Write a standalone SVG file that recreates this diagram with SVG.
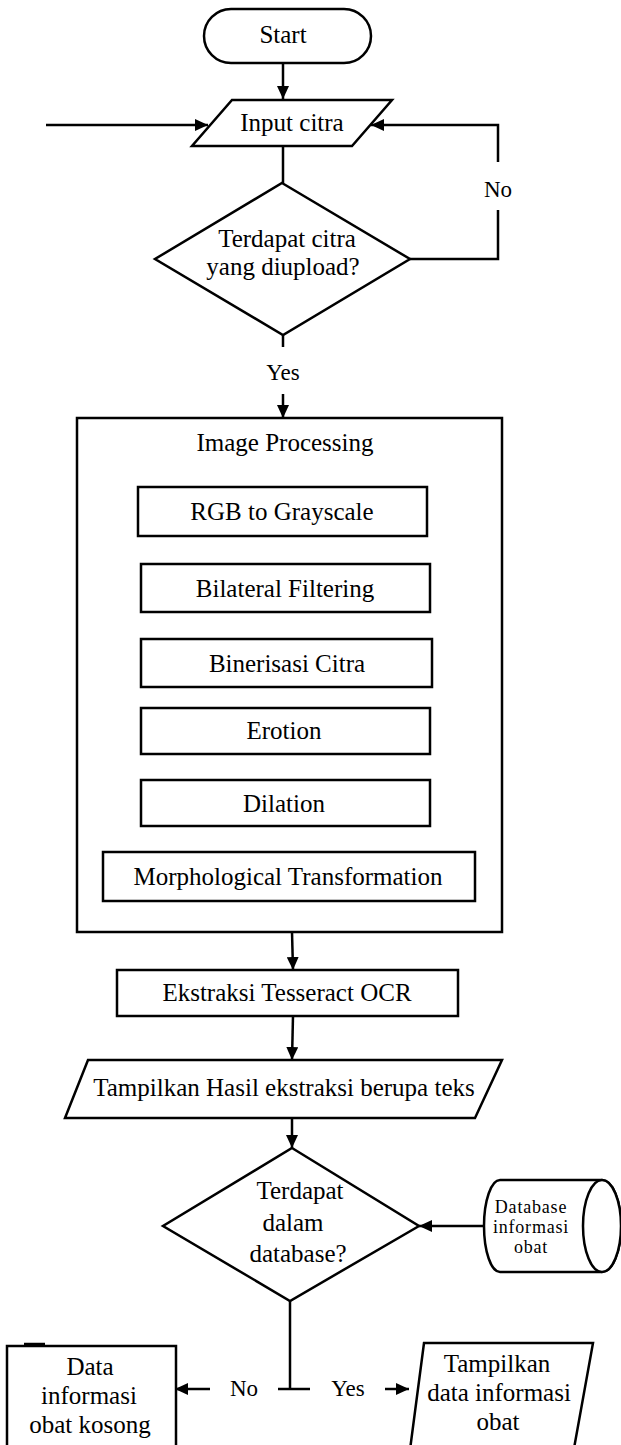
<svg xmlns="http://www.w3.org/2000/svg" width="621" height="1445" viewBox="0 0 621 1445">
  <style>
    .shape { fill: #ffffff; stroke: #000000; stroke-width: 2.5; }
    .line { fill: none; stroke: #000000; stroke-width: 2.5; }
    .label { font-family: "Liberation Serif", "Times New Roman", serif; font-size: 25px; fill: #000000; text-anchor: middle; }
    .small { font-family: "Liberation Serif", "Times New Roman", serif; font-size: 18px; fill: #000000; text-anchor: middle; letter-spacing: 0.8px; }
    .edge { font-family: "Liberation Serif", "Times New Roman", serif; font-size: 23px; fill: #000000; text-anchor: middle; }
  </style>
  <defs>
    <marker id="arrow" markerUnits="userSpaceOnUse" markerWidth="14" markerHeight="12" viewBox="0 0 14 12" refX="13" refY="6" orient="auto">
      <path d="M0,0 L13,6 L0,12 z" fill="#000000"/>
    </marker>
  </defs>

  <rect width="621" height="1445" fill="#ffffff"/>

  <!-- connectors -->
  <g id="connectors">
    <line class="line" x1="283" y1="63" x2="283" y2="99" marker-end="url(#arrow)"/>
    <line class="line" x1="46" y1="125" x2="208" y2="125" marker-end="url(#arrow)"/>
    <polyline class="line" points="410,259 498,259 498,210"/>
    <polyline class="line" points="498,162 498,125 371,125" marker-end="url(#arrow)"/>
    <line class="line" x1="283" y1="146" x2="283" y2="183"/>
    <line class="line" x1="283" y1="335" x2="283" y2="347"/>
    <line class="line" x1="283" y1="394" x2="283" y2="418" marker-end="url(#arrow)"/>
    <line class="line" x1="292" y1="932" x2="293" y2="970" marker-end="url(#arrow)"/>
    <line class="line" x1="293" y1="1016" x2="292" y2="1060" marker-end="url(#arrow)"/>
    <line class="line" x1="292" y1="1108" x2="292" y2="1148" marker-end="url(#arrow)"/>
    <line class="line" x1="485" y1="1226" x2="419" y2="1226" marker-end="url(#arrow)"/>
    <line class="line" x1="290" y1="1301" x2="290" y2="1389"/>
    <line class="line" x1="278" y1="1389" x2="310" y2="1389"/>
    <line class="line" x1="210" y1="1389" x2="175" y2="1389" marker-end="url(#arrow)"/>
    <line class="line" x1="385" y1="1389" x2="409" y2="1389" marker-end="url(#arrow)"/>
    <text class="edge" x="498" y="197">No</text>
    <text class="edge" x="283" y="380">Yes</text>
    <text class="edge" x="244" y="1396">No</text>
    <text class="edge" x="348" y="1396">Yes</text>
  </g>

  <g id="start">
    <rect class="shape" x="204" y="9" width="167" height="54" rx="27" ry="27"/>
    <text class="label" x="283" y="43">Start</text>
  </g>

  <g id="input-citra">
    <polygon class="shape" points="232,100 392,100 352,146 192,146"/>
    <text class="label" x="292" y="131">Input citra</text>
  </g>

  <g id="cek-upload">
    <polygon class="shape" points="282,183 410,259 283,335 155,259"/>
    <text class="label" x="287" y="247">Terdapat citra</text>
    <text class="label" x="283" y="275">yang diupload?</text>
  </g>

  <g id="image-processing">
    <rect class="shape" x="77" y="418" width="425" height="514"/>
    <text class="label" x="285" y="451">Image Processing</text>
  </g>

  <g id="rgb-grayscale">
    <rect class="shape" x="138" y="487" width="289" height="49"/>
    <text class="label" x="282" y="520">RGB to Grayscale</text>
  </g>

  <g id="bilateral-filtering">
    <rect class="shape" x="141" y="564" width="289" height="48"/>
    <text class="label" x="285" y="597">Bilateral Filtering</text>
  </g>

  <g id="binerisasi-citra">
    <rect class="shape" x="141" y="639" width="291" height="48"/>
    <text class="label" x="287" y="672">Binerisasi Citra</text>
  </g>

  <g id="erotion">
    <rect class="shape" x="141" y="708" width="289" height="46"/>
    <text class="label" x="284" y="739">Erotion</text>
  </g>

  <g id="dilation">
    <rect class="shape" x="141" y="780" width="289" height="46"/>
    <text class="label" x="284" y="812">Dilation</text>
  </g>

  <g id="morphological-transformation">
    <rect class="shape" x="103" y="852" width="372" height="49"/>
    <text class="label" x="288" y="885">Morphological Transformation</text>
  </g>

  <g id="ekstraksi-ocr">
    <rect class="shape" x="117" y="970" width="341" height="46"/>
    <text class="label" x="287" y="1001">Ekstraksi Tesseract OCR</text>
  </g>

  <g id="tampilkan-hasil">
    <polygon class="shape" points="88,1060 502,1060 475,1118 65,1118"/>
    <text class="label" x="284" y="1096">Tampilkan Hasil ekstraksi berupa teks</text>
  </g>

  <g id="cek-database">
    <polygon class="shape" points="292,1148 419,1226 290,1301 163,1226"/>
    <text class="label" x="300" y="1199">Terdapat</text>
    <text class="label" x="293" y="1231">dalam</text>
    <text class="label" x="298" y="1262">database?</text>
  </g>

  <g id="database-obat">
    <path class="shape" d="M500,1180 L602,1180 A19,46 0 0 1 602,1272 L500,1272 A16,46 0 0 1 500,1180 Z"/>
    <ellipse class="shape" cx="602" cy="1226" rx="19" ry="46"/>
    <text class="small" x="531" y="1213">Database</text>
    <text class="small" x="531" y="1233">informasi</text>
    <text class="small" x="531" y="1253">obat</text>
  </g>

  <g id="data-kosong">
    <rect class="shape" x="7" y="1346" width="169" height="110"/>
    <line class="line" x1="24" y1="1344" x2="45" y2="1344"/>
    <text class="label" x="90" y="1375">Data</text>
    <text class="label" x="89" y="1404">informasi</text>
    <text class="label" x="90" y="1433">obat kosong</text>
  </g>

  <g id="tampilkan-data">
    <polygon class="shape" points="424,1343 593,1343 571,1465 408,1465"/>
    <text class="label" x="497" y="1372">Tampilkan</text>
    <text class="label" x="499" y="1401">data informasi</text>
    <text class="label" x="498" y="1430">obat</text>
  </g>
</svg>
